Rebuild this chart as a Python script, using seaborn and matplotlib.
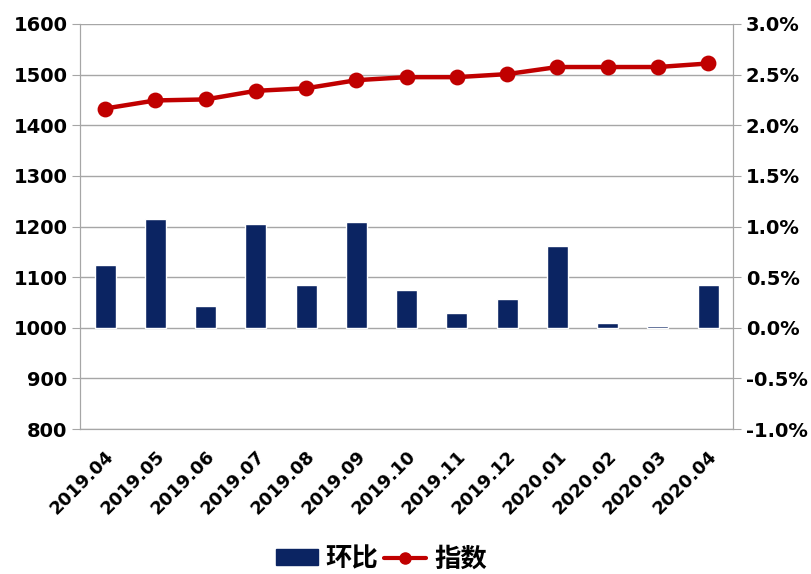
import numpy as np
import pandas as pd
import matplotlib
matplotlib.use("Agg")
import matplotlib.pyplot as plt
import matplotlib.patches as mpatches
from matplotlib.lines import Line2D
import seaborn as sns

# ── 数据 ─────────────────────────────────────────
months = ["2019.04", "2019.05", "2019.06", "2019.07", "2019.08", "2019.09", "2019.10",
          "2019.11", "2019.12", "2020.01", "2020.02", "2020.03", "2020.04"]
index_vals = [1433, 1449, 1451, 1468, 1473, 1489, 1495, 1495, 1501, 1515, 1515, 1515, 1522]
mom_pct = [0.62, 1.07, 0.21, 1.02, 0.42, 1.04, 0.37, 0.15, 0.28, 0.81, 0.05, 0.02, 0.42]

df = pd.DataFrame({"month": months, "指数": index_vals, "环比": mom_pct})

bar_color = "#0B2462"
line_color = "#C00000"
grid_color = "#A6A6A6"

sns.set_style("white")
plt.rcParams["font.family"] = ["DejaVu Sans", "Noto Sans CJK SC"]

fig = plt.figure(figsize=(8.11, 5.74), dpi=100)
ax = fig.add_axes([0.0986, 0.2526, 0.8055, 0.7056])
ax2 = ax.twinx()

# 柱：环比（右轴）
sns.barplot(data=df, x="month", y="环比", order=months, color=bar_color,
            width=0.42, saturation=1, ax=ax2, zorder=2)
# 线：指数（左轴）
sns.pointplot(data=df, x="month", y="指数", order=months, color=line_color,
              markers="o", markersize=9, linewidth=3.2, ax=ax)

ax.set_zorder(ax2.get_zorder() + 1)
ax.patch.set_visible(False)

ax.set_ylim(800, 1600)
ax.set_yticks(np.arange(800, 1601, 100))
ax2.set_ylim(-1.0, 3.0)
ax2.set_yticks(np.arange(-1.0, 3.01, 0.5))
ax2.set_yticklabels([f"{v:.1f}%" for v in np.arange(-1.0, 3.01, 0.5)])
ax.set_xlim(-0.5, len(months) - 0.5)

ax2.set_axisbelow(True)
ax2.yaxis.grid(True, color=grid_color, linewidth=1)
ax.yaxis.grid(False)
ax.xaxis.grid(False)

for a in (ax, ax2):
    a.set_xlabel("")
    a.set_ylabel("")
    for s in a.spines.values():
        s.set_color(grid_color)
    a.spines["top"].set_visible(False)

ax.tick_params(axis="y", length=6, color=grid_color, labelsize=14, pad=3, labelcolor="black")
ax2.tick_params(axis="y", length=6, color=grid_color, labelsize=14, pad=3, labelcolor="black")
for lab in ax.get_yticklabels() + ax2.get_yticklabels():
    lab.set_fontweight("bold")

ax.set_xticks(range(len(months)))
ax.set_xticklabels(months, rotation=45, ha="right", rotation_mode="anchor",
                   fontsize=13, fontweight="bold", color="black")
ax.tick_params(axis="x", which="major", length=0, pad=13)
ax.set_xticks(np.arange(-0.5, len(months), 1), minor=True)
ax.tick_params(axis="x", which="minor", length=6, color=grid_color)

handles = [
    mpatches.Patch(color=bar_color, label="环比"),
    Line2D([0], [0], color=line_color, linewidth=3, marker="o", markersize=8, label="指数"),
]
fig.legend(handles=handles, loc="center", bbox_to_anchor=(0.47, 0.026), ncol=2,
           frameon=False, handlelength=1.6, handleheight=0.55, handletextpad=0.3,
           columnspacing=0.2, labelcolor="black",
           prop={"family": ["Noto Sans CJK SC", "DejaVu Sans"], "size": 19, "weight": "bold"})

fig.savefig("out.png", dpi=100)
